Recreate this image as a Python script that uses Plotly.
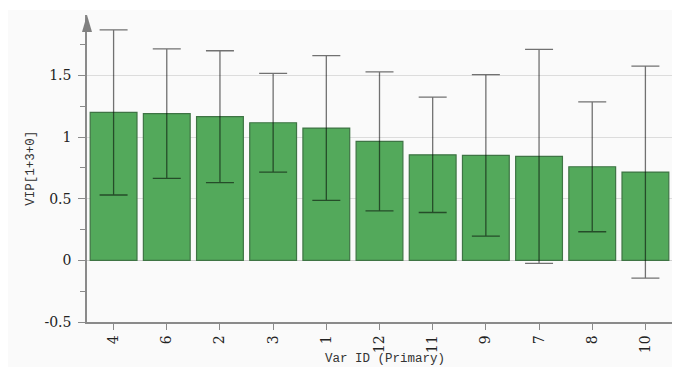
import plotly.graph_objects as go

# VIP scores per variable, sorted descending, with symmetric confidence half-widths
var_ids = ["4", "6", "2", "3", "1", "12", "11", "9", "7", "8", "10"]
vip = [1.20, 1.19, 1.165, 1.116, 1.073, 0.965, 0.856, 0.851, 0.843, 0.759, 0.716]
vip_err = [0.67, 0.525, 0.535, 0.40, 0.587, 0.563, 0.468, 0.655, 0.868, 0.527, 0.86]

y_tick_vals = [-0.5, 0, 0.5, 1, 1.5]
y_tick_text = ["-0.5", "0", "0.5", "1", "1.5"]

serif = "DejaVu Serif"
mono = "Liberation Mono"

fig = go.Figure()
fig.add_trace(go.Bar(
    x=var_ids,
    y=vip,
    width=0.88,
    marker=dict(color="#53a95b", line=dict(color="#3e7444", width=1.2)),
    error_y=dict(type="data", array=vip_err, symmetric=True,
                 color="rgba(0,0,0,0.55)", thickness=1.3, width=14),
))

fig.update_layout(
    width=683, height=367,
    margin=dict(l=87, r=11, t=15, b=45),
    paper_bgcolor="white",
    plot_bgcolor="rgba(0,0,0,0)",
    showlegend=False,
    bargap=0.12,
    shapes=[
        # light backdrop behind the chart
        dict(type="rect", xref="paper", yref="paper", x0=-0.135, x1=1.0,
             y0=-0.16, y1=1.016, fillcolor="#fafafa", line=dict(width=0),
             layer="below"),
        # arrow head on top of the y axis
        dict(type="path", xref="paper", yref="paper", xsizemode="pixel",
             ysizemode="pixel", xanchor=0, yanchor=1,
             path="M -5,-17 L 5,-17 L 0,0 Z", fillcolor="#808080",
             line=dict(width=0)),
    ],
    annotations=[
        dict(text="Var ID (Primary)", xref="paper", yref="paper", x=0.51, y=-0.12,
             xanchor="center", yanchor="middle", showarrow=False,
             font=dict(family=mono, size=12.5, color="#333")),
        dict(text="VIP[1+3+0]", xref="paper", yref="paper", x=-0.097, y=0.5,
             xanchor="center", yanchor="middle", textangle=-90, showarrow=False,
             font=dict(family=mono, size=12.5, color="#333")),
    ],
)

fig.update_xaxes(
    type="category",
    range=[-0.5, 10.5],
    automargin=False,
    showline=True, linecolor="#8a8a8a", linewidth=1.5,
    ticks="outside", ticklen=6, tickcolor="#8a8a8a", tickwidth=1.2,
    tickangle=-90,
    tickfont=dict(family=serif, size=14, color="#222"),
    showgrid=False, zeroline=False,
)

fig.update_yaxes(
    range=[-0.5, 1.99],
    automargin=False,
    showline=True, linecolor="#8a8a8a", linewidth=1.5,
    ticks="outside", ticklen=7, tickcolor="#8a8a8a", tickwidth=1.2,
    tickvals=y_tick_vals, ticktext=y_tick_text,
    tickfont=dict(family=serif, size=14, color="#222"),
    ticklabelstandoff=4,
    minor=dict(dtick=0.25, tick0=0, ticks="outside", ticklen=5,
               tickcolor="#8a8a8a", showgrid=False),
    showgrid=True, gridcolor="#dcdcdc", gridwidth=1,
    zeroline=True, zerolinecolor="#cfcfcf", zerolinewidth=1,
)

fig.write_html("out.html")
